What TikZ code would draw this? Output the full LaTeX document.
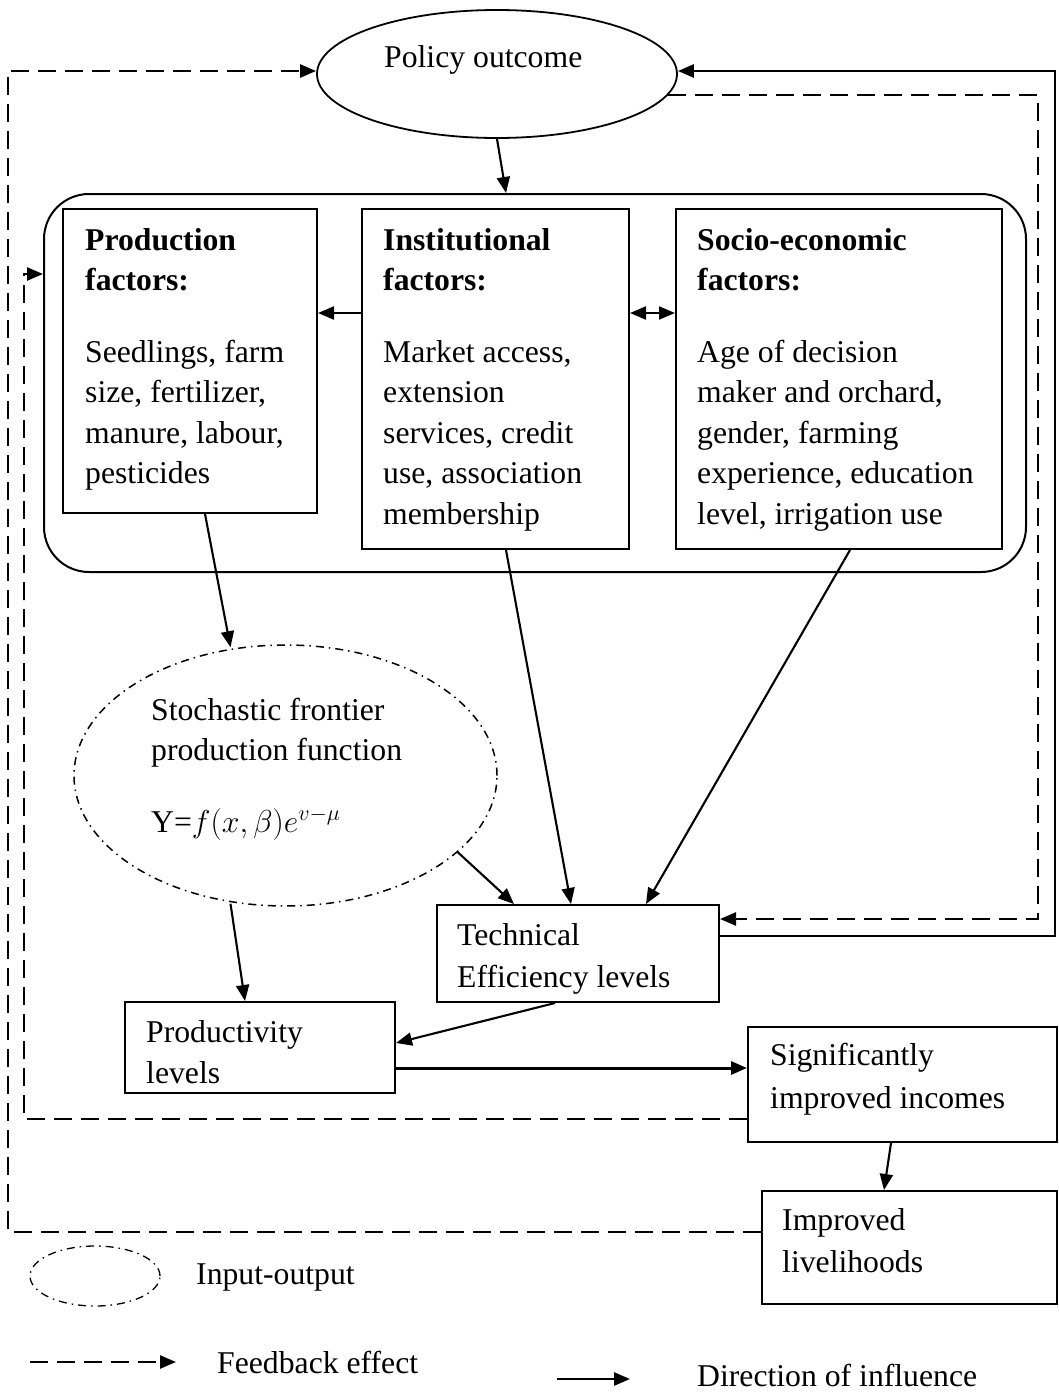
\RequirePackage{fix-cm}
\documentclass[tikz,border=0pt]{standalone}
\usepackage{fontspec}
\setmainfont{Liberation Serif}
\usetikzlibrary{arrows.meta,shapes.geometric}
\begin{document}
\begin{tikzpicture}[x=1pt,y=-1pt,
  every node/.style={font=\fontsize{31.7pt}{40.5pt}\selectfont},
  txt/.style={anchor=base west,inner sep=0pt},
  boxnode/.style={draw,line width=2pt,rectangle,inner sep=0pt},
  arr/.style={line width=2.1pt,-{Triangle[length=16pt,width=13pt]}},
  dbl/.style={line width=2.1pt,{Triangle[length=16pt,width=13pt]}-{Triangle[length=16pt,width=13pt]}},
  fb/.style={line width=2.5pt,dash pattern=on 18pt off 9pt,-{Triangle[length=16pt,width=13pt]}},
  dashdot/.style={dash pattern=on 8pt off 5pt on 1.5pt off 5pt}]
\useasboundingbox (0,0) rectangle (1059,1392);

% main nodes
\node[draw,ellipse,line width=1.8pt,minimum width=360pt,minimum height=128pt,inner sep=0pt] (policy) at (497,74) {};
\node[draw,rectangle,rounded corners=45pt,line width=2pt,minimum width=982pt,minimum height=378pt,inner sep=0pt] (outer) at (535,383) {};
\node[boxnode,minimum width=254pt,minimum height=304pt] (prod) at (190,361) {};
\node[boxnode,minimum width=267pt,minimum height=340pt] (inst) at (495.5,379) {};
\node[boxnode,minimum width=326pt,minimum height=340pt] (socio) at (839,379) {};
\node[draw,ellipse,dashdot,line width=1.5pt,minimum width=423pt,minimum height=261pt,inner sep=0pt] (sfp) at (285.5,775.5) {};
\node[boxnode,minimum width=282pt,minimum height=97pt] (tech) at (578,953.5) {};
\node[boxnode,minimum width=270pt,minimum height=91pt] (prodv) at (260,1047.5) {};
\node[boxnode,minimum width=309pt,minimum height=115pt] (sig) at (902.5,1084.5) {};
\node[boxnode,minimum width=295pt,minimum height=113pt] (impr) at (909.5,1247.5) {};

% texts
\node[txt] (tpol) at (384,67) {Policy outcome};

\node[txt] (tp1) at (85,250) {\textbf{Production}};
\node[txt] (tp2) at (85,290) {\textbf{factors:}};
\node[txt] (tp3) at (85,362) {Seedlings, farm};
\node[txt] (tp4) at (85,402.5) {size, fertilizer,};
\node[txt] (tp5) at (85,443) {manure, labour,};
\node[txt] (tp6) at (85,483.5) {pesticides};

\node[txt] (ti1) at (383,250) {\textbf{Institutional}};
\node[txt] (ti2) at (383,290) {\textbf{factors:}};
\node[txt] (ti3) at (383,362) {Market access,};
\node[txt] (ti4) at (383,402.5) {extension};
\node[txt] (ti5) at (383,443) {services, credit};
\node[txt] (ti6) at (383,483.5) {use, association};
\node[txt] (ti7) at (383,524) {membership};

\node[txt] (ts1) at (697,250) {\textbf{Socio-economic}};
\node[txt] (ts2) at (697,290) {\textbf{factors:}};
\node[txt] (ts3) at (697,362) {Age of decision};
\node[txt] (ts4) at (697,402.5) {maker and orchard,};
\node[txt] (ts5) at (697,443) {gender, farming};
\node[txt] (ts6) at (697,483.5) {experience, education};
\node[txt] (ts7) at (697,524) {level, irrigation use};

\node[txt] (tf1) at (151,720) {Stochastic frontier};
\node[txt] (tf2) at (151,760) {production function};
\node[txt] (tf3) at (151,832) {Y=$f(x,\beta)e^{v-\mu}$};

\node[txt] (tt1) at (457,945) {Technical};
\node[txt] (tt2) at (457,987) {Efficiency levels};

\node[txt] (tv1) at (146,1042) {Productivity};
\node[txt] (tv2) at (146,1083) {levels};

\node[txt] (tg1) at (770,1065) {Significantly};
\node[txt] (tg2) at (770,1108) {improved incomes};

\node[txt] (tl1) at (782,1230) {Improved};
\node[txt] (tl2) at (782,1272) {livelihoods};

% connectors
\draw[arr] (policy.south) -- ([xshift=-29pt]outer.north);
\draw[arr] ([yshift=66pt]inst.west) -- ([yshift=48pt]prod.east);
\draw[dbl] ([yshift=66pt]inst.east) -- ([yshift=66pt]socio.west);
\draw[arr] ([xshift=15pt]prod.south) -- ([xshift=-55pt,yshift=-3pt]sfp.north);
\draw[arr] (sfp.-24) -- ([xshift=-64pt]tech.north);
\draw[arr] ([xshift=10.5pt]inst.south) -- ([xshift=-7pt]tech.north);
\draw[arr] ([xshift=11pt]socio.south) -- ([xshift=68pt]tech.north);
\draw[arr] ([xshift=-55pt,yshift=3pt]sfp.south) -- ([xshift=-15pt]prodv.north);
\draw[arr] ([xshift=-23pt]tech.south) -- ([yshift=4.5pt]prodv.east);
\draw[arr,line width=3pt] ([yshift=-20.5pt]prodv.east) -- ([yshift=16.5pt]sig.west);
\draw[arr] ([xshift=-11.5pt]sig.south) -- ([xshift=-25.5pt]impr.north);

% feedback loops
\coordinate (rsolid) at (1055,500);
\coordinate (rdash) at (1038,500);
\coordinate (lout) at (8,600);
\coordinate (lin) at (24,600);
\draw[arr,line width=2.6pt] ([yshift=17.5pt]tech.east) -| (rsolid) |- ([yshift=3pt]policy.east);
\draw[fb] (policy.-7.5) -| (rdash) |- ([yshift=34.5pt]tech.east);
\draw[fb] ([yshift=15.5pt]impr.west) -| (lout) |- ([yshift=3pt]policy.west);
\draw[fb] ([yshift=-34.5pt]sig.west) -| (lin) |- ([yshift=109pt]outer.west);

% legend
\node[draw,ellipse,dashdot,line width=1.3pt,minimum width=130pt,minimum height=60pt,inner sep=0pt] (legio) at (95,1276) {};
\node[txt] (tlio) at (196,1284) {Input-output};
\coordinate (fbA) at (30,1362);
\coordinate (fbB) at (176,1362);
\draw[fb] (fbA) -- (fbB);
\node[txt] (tlfb) at (217,1373) {Feedback effect};
\coordinate (drA) at (557,1379);
\coordinate (drB) at (630,1379);
\draw[arr,line width=2.6pt] (drA) -- (drB);
\node[txt] (tldr) at (697,1386) {Direction of influence};
\end{tikzpicture}
\end{document}
